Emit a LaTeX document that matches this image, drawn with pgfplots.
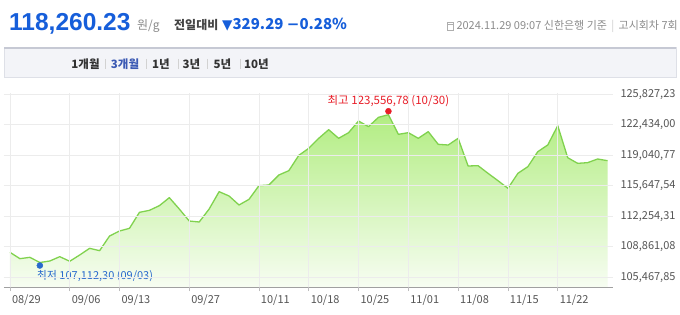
\documentclass[border=0pt]{standalone}
\usepackage{fontspec}
\setmainfont{Noto Sans CJK KR}
\newfontfamily\dv{DejaVu Sans}
\newfontfamily\ls{Liberation Sans}
\usepackage{pgfplots}
\usepackage{pgfplotstable}
\pgfplotsset{compat=1.18}
\definecolor{bigblue}{RGB}{22,94,218}
\definecolor{lineg}{RGB}{128,210,78}
\definecolor{filltop}{RGB}{178,237,130}
\definecolor{fillbot}{RGB}{247,253,242}
\definecolor{maxred}{RGB}{232,30,40}
\definecolor{minblue}{RGB}{40,105,205}
\definecolor{gridc}{RGB}{236,236,236}
\definecolor{labgray}{RGB}{85,85,85}
\definecolor{axisgray}{RGB}{160,160,160}
\definecolor{infogray}{RGB}{140,140,140}
\definecolor{bartop}{RGB}{198,201,212}
\definecolor{barfill}{RGB}{243,244,248}
\definecolor{barline}{RGB}{222,224,231}
\definecolor{btntext}{RGB}{50,50,50}
\definecolor{btnblue}{RGB}{60,90,180}
\newcommand\fs[1]{\fontsize{#1}{#1}\selectfont}

\pgfplotstableread{
x y
0 108246
1 107541
2 107689
3 107112.30
4 107281
5 107763
6 107250
7 107949
8 108691
9 108431
10 110063
11 110619
12 110916
13 112696
14 112918
15 113437
16 114327
17 113066
18 111731
19 111620
20 113066
21 114995
22 114513
23 113511
24 114142
25 115662
26 115736
27 116849
28 117331
29 119037
30 119816
31 120928
32 121892
33 120928
34 121558
35 122856
36 122226
37 123265
38 123556.78
39 121373
40 121558
41 120928
42 121670
43 120261
44 120186
45 120928
46 117850
47 117887
48 117035
49 116218
50 115366
51 117035
52 117776
53 119445
54 120186
55 122337
56 118777
57 118147
58 118221
59 118629
60 118443
}\gold

\pgfplotstableread{
x y
0 108246
1 107541
2 107689
3 107112.30
4 107281
5 107763
6 107250
7 107949
8 108691
9 108431
10 110063
11 110619
12 110916
13 112696
14 112918
15 113437
16 114327
17 113066
18 111731
19 111620
20 113066
21 114995
22 114513
23 113511
24 114142
25 115662
26 115736
27 116849
28 117331
29 119037
30 119816
31 120928
32 121892
33 120928
34 121558
35 122856
36 122226
37 123265
38 123556.78
39 121373
40 121558
41 120928
42 121670
43 120261
44 120186
45 120928
46 117850
47 117887
48 117035
49 116218
50 115366
51 117035
52 117776
53 119445
54 120186
55 122337
56 118777
57 118147
58 118221
59 118629
60 118443
60 104388.7
0 104388.7
}\goldfill

\begin{document}
\begin{tikzpicture}
\useasboundingbox[fill=white] (0,0) rectangle (680pt,-315pt);

% header
\node[anchor=base west, inner sep=0, text=bigblue, font=\ls\fs{24.5}\bfseries] at (9pt,-31pt) {118,260.23};
\node[anchor=base west, inner sep=0, text=infogray, font=\fs{12}] at (137pt,-30pt) {원/g};
\node[anchor=base west, inner sep=0, text=labgray!80!black, font=\fs{12}\bfseries] at (174pt,-30pt) {전일대비};
\node[anchor=base west, inner sep=0, text=bigblue, font=\fs{15}\bfseries] at (222pt,-30pt) {{\dv\fs{13.5}▼}329.29 {\dv\bfseries −}0.28\%};
\node[anchor=base east, inner sep=0, text=infogray, font=\fs{11}] (info) at (678pt,-30pt) {2024.11.29 09:07 신한은행 기준 {\color{gray!40}\,|\,} 고시회차 7회};
\draw[infogray!70, line width=0.7pt] ([xshift=-9pt,yshift=-0.5pt]info.base west) rectangle ([xshift=-2.5pt,yshift=8pt]info.base west);
\draw[infogray!70, line width=0.7pt] ([xshift=-9pt,yshift=6pt]info.base west) -- ([xshift=-2.5pt,yshift=6pt]info.base west);

% button bar
\fill[barfill] (4pt,-47.5pt) rectangle (676pt,-77.5pt);
\draw[barline, line width=0.8pt] (4pt,-47.5pt) -- (4pt,-77.5pt) -- (676pt,-77.5pt) -- (676pt,-47.5pt);
\draw[bartop, line width=2pt] (4pt,-48pt) -- (676pt,-48pt);
\foreach \xx in {105,146,178,207,240} {\draw[gray!35, line width=0.6pt] (\xx pt,-59pt) -- (\xx pt,-69pt);}
\node[inner sep=0, text=btntext, font=\fs{11.5}\bfseries] at (85.5pt,-64pt) {1개월};
\node[inner sep=0, text=btnblue, font=\fs{11.5}\bfseries] at (125pt,-64pt) {3개월};
\node[inner sep=0, text=btntext, font=\fs{11.5}\bfseries] at (161pt,-64pt) {1년};
\node[inner sep=0, text=btntext, font=\fs{11.5}\bfseries] at (191.5pt,-64pt) {3년};
\node[inner sep=0, text=btntext, font=\fs{11.5}\bfseries] at (222.5pt,-64pt) {5년};
\node[inner sep=0, text=btntext, font=\fs{11.5}\bfseries] at (256.5pt,-64pt) {10년};

\begin{axis}[
  at={(4pt,-287pt)}, anchor=south west, scale only axis,
  width=609pt, height=193.5pt,
  xmin=-0.6, xmax=60.55, ymin=104388.7, ymax=125916,
  scaled y ticks=false,
  axis line style={draw=none},
  xtick={0,6,11,18,25,30,35,40,45,50,55},
  xticklabels={08/29,09/06,09/13,09/27,10/11,10/18,10/25,11/01,11/08,11/15,11/22},
  ytick={105467.85,108861.08,112254.31,115647.54,119040.77,122434.00,125827.23},
  yticklabels={{105,467,85},{108,861,08},{112,254,31},{115,647,54},{119,040,77},{122,434,00},{125,827,23}},
  yticklabel pos=right,
  xtick pos=left,
  ytick style={draw=none},
  xtick style={color=axisgray!70, line width=0.7pt},
  tick align=outside, major tick length=4pt,
  grid=major, major grid style={color=gridc, line width=0.8pt},
  axis on top,
  xticklabel style={font=\fs{11}, text=labgray, anchor=north west, xshift=-1.5pt, yshift=0pt},
  yticklabel style={font=\fs{11}, text=labgray, anchor=west, xshift=0pt},
]
\addplot[draw=none, top color=filltop, bottom color=fillbot] table[x=x,y=y] {\goldfill};
\draw[axisgray, line width=0.8pt] (rel axis cs:0,0) -- (rel axis cs:1,0);
\addplot[color=lineg, line width=1.3pt, line join=round] table[x=x,y=y] {\gold};
\addplot[only marks, mark=*, mark size=3pt, color=maxred, mark options={yshift=3.5pt}] coordinates {(38,123556.78)};
\addplot[only marks, mark=*, mark size=3pt, color=minblue, mark options={yshift=-3pt}] coordinates {(3,107112.30)};
\node[inner sep=0, text=maxred, font=\fs{11.5}, yshift=13.7pt] at (axis cs:38,123556.78) {최고 123,556,78 (10/30)};
\node[inner sep=0, anchor=west, text=minblue, font=\fs{11}, xshift=-3.3pt, yshift=-13.5pt] at (axis cs:3,107112.30) {최저 107,112,30 (09/03)};
\end{axis}
\end{tikzpicture}
\end{document}
